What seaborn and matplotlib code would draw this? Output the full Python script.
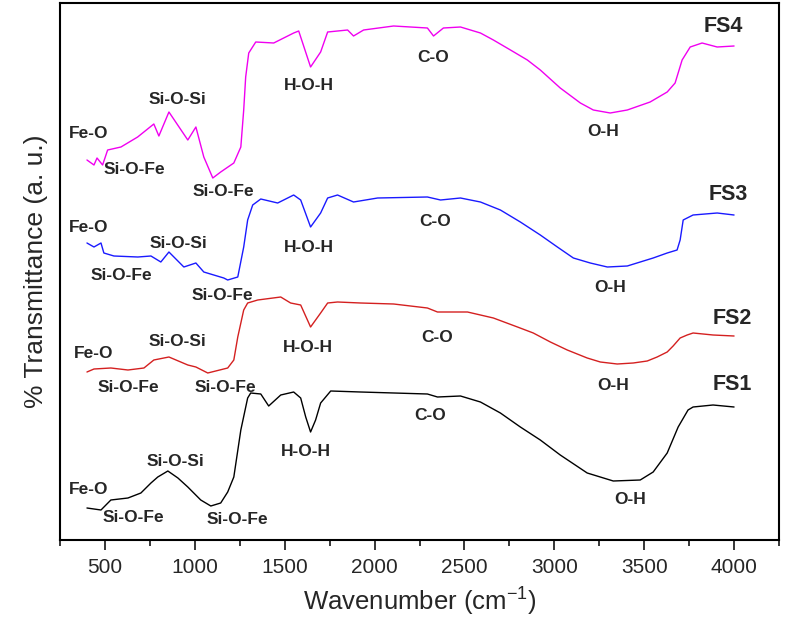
import pandas as pd
import matplotlib
matplotlib.use("Agg")
import matplotlib.pyplot as plt
from matplotlib.ticker import MultipleLocator
import seaborn as sns

# FTIR spectra (wavenumber in cm-1, transmittance in a.u. incl. offset)
fs1_wn = [400, 478, 533, 628, 700, 756, 794, 850, 906, 961, 1033, 1089, 1144, 1183, 1217, 1256,
          1294, 1311, 1367, 1411, 1478, 1550, 1589, 1617, 1644, 1672, 1700, 1756, 1922, 2294,
          2350, 2478, 2589, 2700, 2811, 2922, 3033, 3183, 3328, 3478, 3550, 3628, 3689, 3744,
          3772, 3883, 4000]
fs1_t = [32, 30, 40, 42, 47, 57, 63, 69, 62, 53, 40, 34, 37, 48, 63, 110,
         142, 147, 146, 134, 145, 148, 142, 123, 108, 120, 137, 149, 148, 146,
         143, 144, 138, 127, 113, 100, 85, 67, 59, 60, 68, 87, 113, 130,
         133, 135, 133]

fs2_wn = [400, 439, 533, 628, 717, 772, 856, 961, 1006, 1072, 1183, 1217, 1239, 1272, 1294, 1350,
          1478, 1533, 1589, 1644, 1700, 1739, 1794, 1922, 2106, 2294, 2350, 2517, 2661, 2795,
          2883, 2978, 3072, 3183, 3256, 3350, 3439, 3517, 3572, 3628, 3661, 3700, 3739, 3772,
          3883, 4000]
fs2_t = [168, 171, 172, 170, 172, 180, 183, 175, 173, 167, 172, 180, 203, 230, 237, 240,
         243, 237, 235, 213, 227, 237, 238, 237, 236, 232, 228, 228, 222, 213,
         207, 198, 190, 182, 178, 176, 177, 179, 183, 188, 194, 202, 205, 207,
         205, 204]

fs3_wn = [400, 439, 478, 494, 550, 683, 756, 811, 856, 939, 1006, 1050, 1161, 1183, 1239, 1272,
          1294, 1322, 1367, 1461, 1550, 1589, 1644, 1700, 1739, 1794, 1883, 2017, 2294, 2367,
          2478, 2589, 2700, 2811, 2922, 3017, 3106, 3200, 3295, 3406, 3478, 3550, 3628, 3683,
          3700, 3717, 3772, 3906, 4000]
fs3_t = [297, 293, 297, 287, 284, 283, 284, 278, 288, 273, 277, 268, 262, 260, 263, 293,
         320, 335, 341, 337, 345, 340, 313, 327, 342, 345, 338, 342, 343, 340,
         342, 338, 330, 318, 305, 293, 282, 277, 273, 274, 278, 282, 287, 290,
         300, 320, 325, 327, 325]

fs4_wn = [400, 439, 456, 487, 515, 589, 682, 772, 800, 856, 961, 1006, 1050, 1100, 1144, 1217,
          1256, 1272, 1283, 1300, 1339, 1439, 1550, 1578, 1644, 1700, 1739, 1850, 1883, 1939,
          2106, 2294, 2328, 2383, 2478, 2589, 2661, 2756, 2850, 2922, 3033, 3145, 3217, 3311,
          3406, 3533, 3628, 3672, 3711, 3756, 3822, 3906, 4000]
fs4_t = [380, 375, 382, 375, 390, 393, 403, 416, 404, 428, 400, 413, 383, 362, 368, 377,
         393, 430, 463, 487, 498, 497, 507, 509, 473, 488, 508, 510, 504, 510,
         514, 512, 504, 512, 513, 507, 500, 490, 480, 470, 452, 437, 430, 427,
         430, 438, 448, 457, 480, 493, 497, 493, 494]

samples = ["FS1", "FS2", "FS3", "FS4"]
colors = {"FS1": "#000000", "FS2": "#d42020", "FS3": "#1a1aff", "FS4": "#f000f0"}

# band labels: (text, wavenumber, transmittance)
band_labels = [
    ("Fe-O", 411, 50), ("Si-O-Fe", 656, 22), ("Si-O-Si", 894, 79), ("Si-O-Fe", 1239, 21),
    ("H-O-H", 1617, 88), ("C-O", 2311, 125), ("O-H", 3422, 40),
    ("Fe-O", 439, 187), ("Si-O-Fe", 628, 153), ("Si-O-Si", 906, 198), ("Si-O-Fe", 1172, 152),
    ("H-O-H", 1628, 193), ("C-O", 2350, 203), ("O-H", 3328, 155),
    ("Fe-O", 411, 312), ("Si-O-Fe", 589, 265), ("Si-O-Si", 911, 297), ("Si-O-Fe", 1156, 245),
    ("H-O-H", 1633, 293), ("C-O", 2339, 318), ("O-H", 3311, 252),
    ("Fe-O", 411, 407), ("Si-O-Fe", 661, 370), ("Si-O-Si", 906, 441), ("Si-O-Fe", 1161, 348),
    ("H-O-H", 1633, 455), ("C-O", 2328, 483), ("O-H", 3272, 408),
]
sample_labels = [("FS1", 3989, 155), ("FS2", 3989, 222), ("FS3", 3967, 346), ("FS4", 3939, 514)]

frames = []
for name, wn, t in [("FS1", fs1_wn, fs1_t), ("FS2", fs2_wn, fs2_t),
                    ("FS3", fs3_wn, fs3_t), ("FS4", fs4_wn, fs4_t)]:
    frames.append(pd.DataFrame({"wavenumber": wn, "transmittance": t, "sample": name}))
df = pd.concat(frames, ignore_index=True)

sns.set_style("ticks")
plt.rcParams["font.family"] = ["Liberation Sans", "DejaVu Sans"]
plt.rcParams["mathtext.default"] = "regular"

fig = plt.figure(figsize=(7.88, 6.23), dpi=100)
ax = fig.add_axes([60 / 788, 83 / 623, 719 / 788, 537 / 623])

sns.lineplot(data=df, x="wavenumber", y="transmittance", hue="sample", hue_order=samples,
             palette=colors, estimator=None, sort=False, legend=False, linewidth=1.0, ax=ax)

for txt, x, y in band_labels:
    ax.text(x, y, txt, ha="center", va="center", fontsize=12.5, fontweight="bold")
for txt, x, y in sample_labels:
    ax.text(x, y, txt, ha="center", va="center", fontsize=15.5, fontweight="bold")

ax.set_xlim(250, 4250)
ax.set_ylim(0, 537)
ax.xaxis.set_minor_locator(MultipleLocator(250))
ax.set_xticks([500, 1000, 1500, 2000, 2500, 3000, 3500, 4000])
ax.set_yticks([])
ax.tick_params(axis="x", which="major", direction="out", length=7, width=1.3, labelsize=15, pad=6)
ax.tick_params(axis="x", which="minor", direction="out", length=4, width=1.3)
for sp in ax.spines.values():
    sp.set_visible(True)
    sp.set_linewidth(1.5)
    sp.set_color("black")

ax.set_xlabel("Wavenumber (cm$^{-1}$)", fontsize=18.5, labelpad=6)
ax.set_ylabel("% Transmittance (a. u.)", fontsize=19, labelpad=9)

fig.savefig("out.png", dpi=100)
